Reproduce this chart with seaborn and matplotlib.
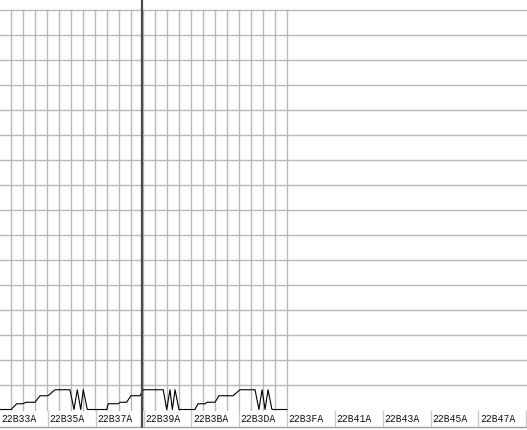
import matplotlib
matplotlib.use("Agg")
import matplotlib.pyplot as plt
import matplotlib.transforms as mtransforms
import seaborn as sns
import pandas as pd

# ---- data ----
tick_labels = ["22B33A", "22B35A", "22B37A", "22B39A", "22B3BA", "22B3DA",
               "22B3FA", "22B41A", "22B43A", "22B45A", "22B47A"]
base_address = int(tick_labels[0], 16)

# address offsets (relative to 22B33A) and sampled values
addr_offsets = [0, 7.4, 11.2, 15.4, 17.4, 23.4, 26.8, 32.1, 36.8, 46.8,
                49.5, 51.7, 54.0, 55.7, 58.4, 71.4, 72.4, 79.1, 80.3, 84.7,
                87.6, 93.6, 95.9, 109.2, 111.5, 113.7, 115.3, 117.1, 119.7, 130.4,
                132.4, 137.1, 138.5, 143.8, 146.5, 155.9, 160.5, 170.6, 173.2, 175.3,
                177.3, 179.3, 181.9, 192.0]
values = [0, 0, 23, 23, 29, 29, 55, 55, 79, 79,
          0, 79, 0, 79, 0, 0, 23, 23, 29, 29,
          55, 55, 79, 79, 0, 79, 0, 79, 0, 0,
          23, 23, 29, 29, 55, 55, 79, 79, 0, 79,
          0, 79, 0, 0]
cursor_offset = 94.8

df = pd.DataFrame({"address": addr_offsets, "value": values})

# ---- figure layout (pixel based) ----
W, H = 527, 431
plot_bottom_px = 411
label_bottom_px = 428
px_per_addr = 47.84 / 32.0
x_max = W / px_per_addr
y_unit_px = 25.0 / 100.0  # 100 value units per 25 px

sns.set_style("white")
plt.rcParams["font.family"] = ["Liberation Mono", "DejaVu Sans Mono"]

fig = plt.figure(figsize=(W / 100, H / 100), dpi=100)
fig.patch.set_facecolor("white")
ax = fig.add_axes([0, (H - plot_bottom_px) / H, 1, plot_bottom_px / H])

y_low = -0.5 / y_unit_px
y_high = (plot_bottom_px - 0.5) / y_unit_px

grid_color = "#b8b8b8"
# horizontal grid across full width
for k in range(1, 17):
    ax.axhline(100 * k, color=grid_color, lw=1.0, zorder=1)

# vertical grid only over data region, starting at top horizontal line
vgrid_start = 7.16
vgrid_step = 8.03
top_line_frac = (1600 - y_low) / (y_high - y_low)
for k in range(24):
    ax.axvline(vgrid_start + k * vgrid_step, ymin=0, ymax=top_line_frac,
               color=grid_color, lw=1.0, zorder=1)

# waveform
sns.lineplot(data=df, x="address", y="value", ax=ax, color="black",
             lw=0.8, estimator=None, sort=False, zorder=3)
for ln in ax.get_lines():
    ln.set_clip_on(False)

row_frac = (label_bottom_px - plot_bottom_px) / plot_bottom_px
# cursor line
ax.axvline(cursor_offset, ymin=-row_frac, ymax=1, color="#4a4a4a", lw=1.6,
           clip_on=False, zorder=5)

ax.set_xlim(0, x_max)
ax.set_ylim(y_low, y_high)
ax.set_xlabel("")
ax.set_ylabel("")
ax.set_xticks([])
ax.set_yticks([])
for s in ax.spines.values():
    s.set_visible(False)

# label row below the plot
xtr = ax.get_xaxis_transform()
txt_tr = mtransforms.offset_copy(xtr, fig=fig, x=1.5, y=0, units="dots")
tick_pos = [int(l, 16) - base_address for l in tick_labels]
sep_pos = [p for p in tick_pos if p > 0] + [x_max - 1 / px_per_addr]
ax.vlines(sep_pos, -row_frac, 0, transform=xtr, colors="#c8c8c8", lw=1.0,
          clip_on=False, zorder=2)
for pos, lbl in zip(tick_pos, tick_labels):
    ax.text(pos, -row_frac / 2, lbl, transform=txt_tr, ha="left", va="center",
            fontsize=7, color="#111111", clip_on=False)
ax.plot([0, 1], [-row_frac, -row_frac], transform=ax.transAxes,
        color="#a0a0a0", lw=1.0, clip_on=False)

fig.savefig("out.png", dpi=100, facecolor="white")
